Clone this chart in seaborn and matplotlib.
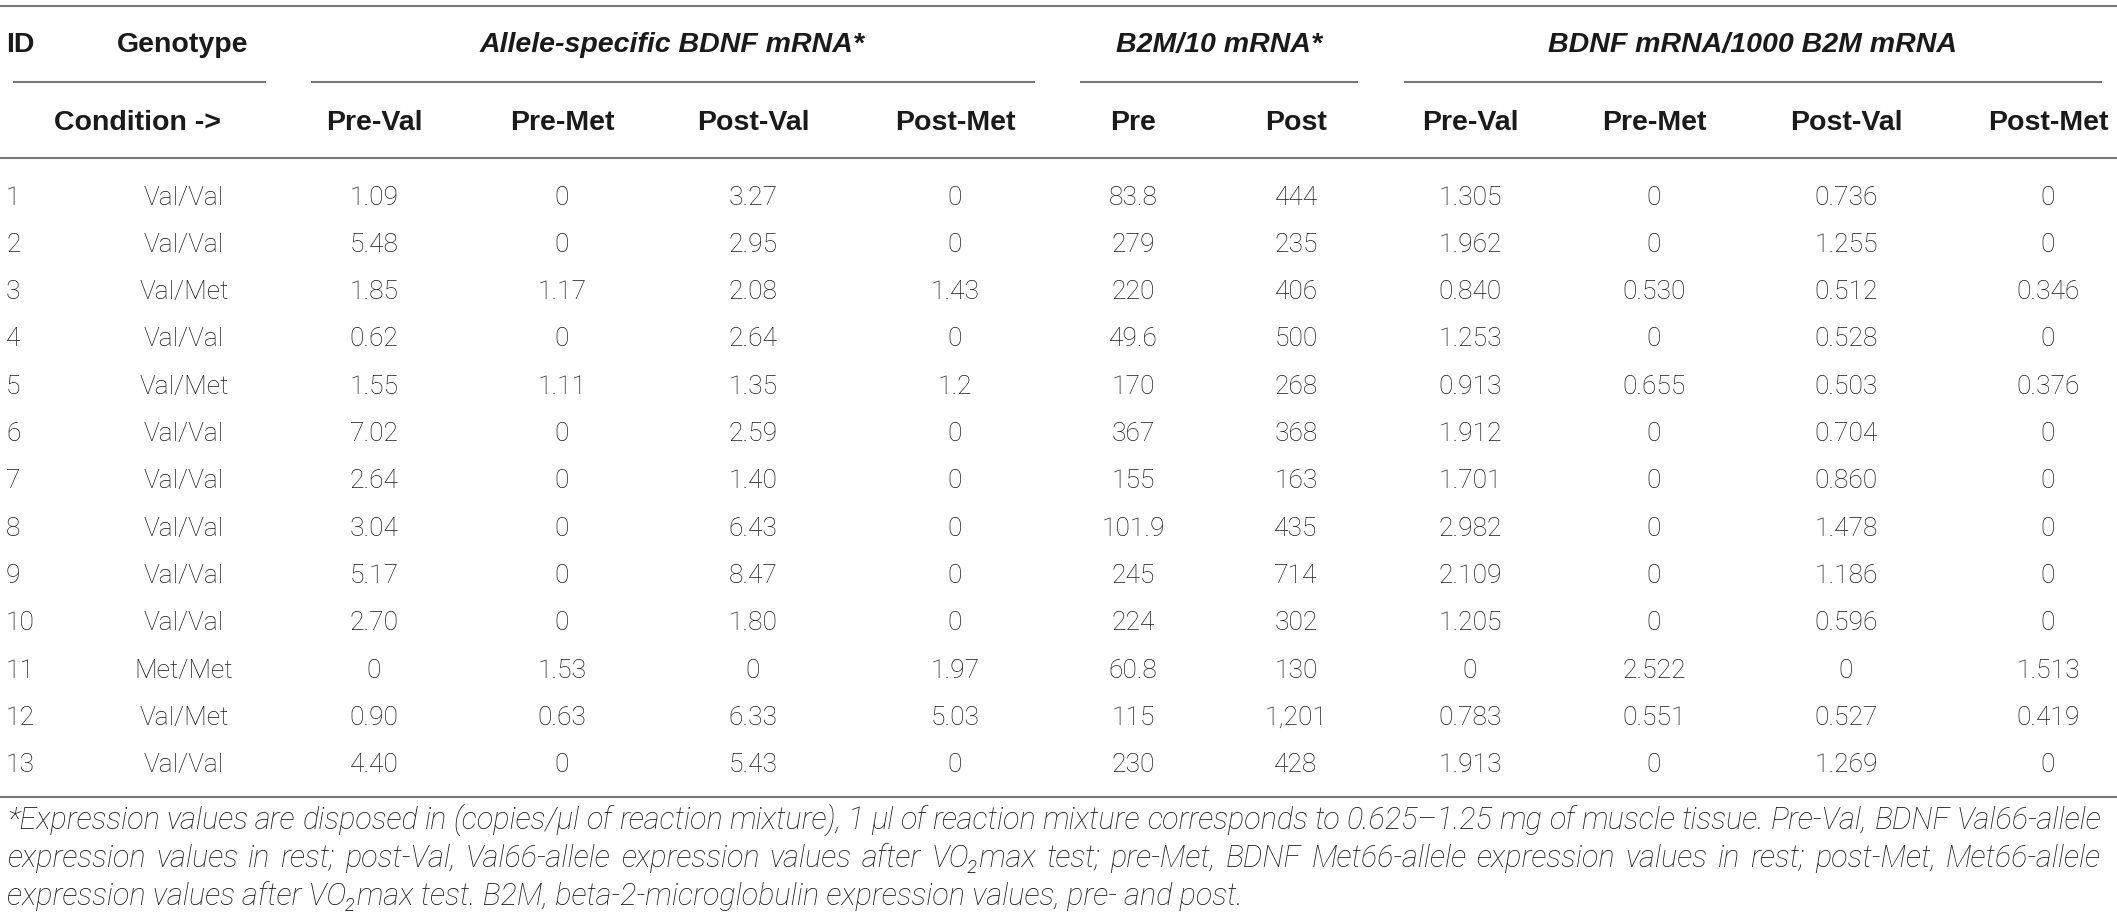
import matplotlib
matplotlib.use("Agg")
import matplotlib.pyplot as plt
import seaborn as sns
import pandas as pd

# table values
ids = [str(i) for i in range(1, 14)]
genotypes = ["Val/Val", "Val/Val", "Val/Met", "Val/Val", "Val/Met", "Val/Val", "Val/Val",
             "Val/Val", "Val/Val", "Val/Val", "Met/Met", "Val/Met", "Val/Val"]
allele_pre_val = ["1.09", "5.48", "1.85", "0.62", "1.55", "7.02", "2.64", "3.04", "5.17", "2.70", "0", "0.90", "4.40"]
allele_pre_met = ["0", "0", "1.17", "0", "1.11", "0", "0", "0", "0", "0", "1.53", "0.63", "0"]
allele_post_val = ["3.27", "2.95", "2.08", "2.64", "1.35", "2.59", "1.40", "6.43", "8.47", "1.80", "0", "6.33", "5.43"]
allele_post_met = ["0", "0", "1.43", "0", "1.2", "0", "0", "0", "0", "0", "1.97", "5.03", "0"]
b2m_pre = ["83.8", "279", "220", "49.6", "170", "367", "155", "101.9", "245", "224", "60.8", "115", "230"]
b2m_post = ["444", "235", "406", "500", "268", "368", "163", "435", "714", "302", "130", "1,201", "428"]
ratio_pre_val = ["1.305", "1.962", "0.840", "1.253", "0.913", "1.912", "1.701", "2.982", "2.109", "1.205", "0", "0.783", "1.913"]
ratio_pre_met = ["0", "0", "0.530", "0", "0.655", "0", "0", "0", "0", "0", "2.522", "0.551", "0"]
ratio_post_val = ["0.736", "1.255", "0.512", "0.528", "0.503", "0.704", "0.860", "1.478", "1.186", "0.596", "0", "0.527", "1.269"]
ratio_post_met = ["0", "0", "0.346", "0", "0.376", "0", "0", "0", "0", "0", "1.513", "0.419", "0"]

group_labels = ["Allele-specific BDNF mRNA*", "B2M/10 mRNA*", "BDNF mRNA/1000 B2M mRNA"]
sub_labels = ["Pre-Val", "Pre-Met", "Post-Val", "Post-Met", "Pre", "Post",
              "Pre-Val", "Pre-Met", "Post-Val", "Post-Met"]

foot_lines = [
    "*Expression values are disposed in (copies/\u00b5l of reaction mixture), 1 \u00b5l of reaction mixture "
    "corresponds to 0.625\u20131.25 mg of muscle tissue. Pre-Val, BDNF Val66-allele",
    "expression values in rest; post-Val, Val66-allele expression values after VO\u2082max test; pre-Met, "
    "BDNF Met66-allele expression values in rest; post-Met, Met66-allele",
    "expression values after VO\u2082max test. B2M, beta-2-microglobulin expression values, pre- and post.",
]

table = pd.DataFrame({
    "ID": ids, "Genotype": genotypes,
    "a_pv": allele_pre_val, "a_pm": allele_pre_met, "a_ov": allele_post_val, "a_om": allele_post_met,
    "b_pre": b2m_pre, "b_post": b2m_post,
    "r_pv": ratio_pre_val, "r_pm": ratio_pre_met, "r_ov": ratio_post_val, "r_om": ratio_post_met,
})

sns.set_theme(style="white")
plt.rcParams["font.family"] = ["Roboto", "DejaVu Sans"]

W, H = 2117, 921
fig = plt.figure(figsize=(W / 100, H / 100), dpi=100)
ax = fig.add_axes([0, 0, 1, 1])
ax.set_xlim(0, W)
ax.set_ylim(H, 0)
ax.axis("off")

ink = "#1a1a1a"
rule = "#777777"

# column centres (pixels)
col_x = [374, 562, 753, 955, 1133, 1296, 1470, 1654, 1846, 2048]
row_y0, row_dy = 195, 47.33

# rules
ax.hlines([6, 158, 797], 0, W, color=rule, lw=1.5)
for x0, x1 in [(13, 266), (311, 1035), (1080, 1358), (1404, 2102)]:
    ax.hlines(82, x0, x1, color=rule, lw=1.5)

hdr = dict(color=ink, fontsize=20.5, fontweight="bold", va="center_baseline",
           family=["Liberation Sans", "DejaVu Sans"])
ax.text(6, 42, "ID", ha="left", **hdr)
ax.text(183, 42, "Genotype", ha="center", **hdr)
for x, lab in zip([672, 1219, 1752], group_labels):
    ax.text(x, 42, lab, ha="center", style="italic", **hdr)
ax.text(138, 120, "Condition ->", ha="center", **hdr)
for x, lab in zip(col_x, sub_labels):
    ax.text(x, 120, lab, ha="center", **hdr)

cell = dict(color=ink, fontsize=19, fontweight="light", va="center_baseline")
value_cols = ["a_pv", "a_pm", "a_ov", "a_om", "b_pre", "b_post", "r_pv", "r_pm", "r_ov", "r_om"]
for i, row in table.iterrows():
    y = row_y0 + i * row_dy
    ax.text(6, y, row["ID"], ha="left", **cell)
    ax.text(184, y, row["Genotype"], ha="center", **cell)
    for x, c in zip(col_x, value_cols):
        ax.text(x, y, row[c], ha="center", **cell)

# footnote: size fitted so the last line ends where it does in the reference,
# first two lines justified between the margins
renderer = fig.canvas.get_renderer()
foot = dict(color=ink, fontweight="light", style="italic", va="baseline")
x_left, x_right = 7, 2101
probe = ax.text(x_left, 905, foot_lines[-1], ha="left", fontsize=18, **foot)
foot_size = 18 * (1240 - x_left) / probe.get_window_extent(renderer).width
probe.set_fontsize(foot_size)

foot_y = [829, 867, 905]
for k, line in enumerate(foot_lines[:-1]):
    words = line.split(" ")
    arts = [ax.text(0, foot_y[k], w, ha="left", fontsize=foot_size, **foot) for w in words]
    widths = [a.get_window_extent(renderer).width for a in arts]
    gap = (x_right - x_left - sum(widths)) / (len(words) - 1)
    x = x_left
    for a, w in zip(arts, widths):
        a.set_x(x)
        x += w + gap

fig.savefig("out.png", dpi=100)
